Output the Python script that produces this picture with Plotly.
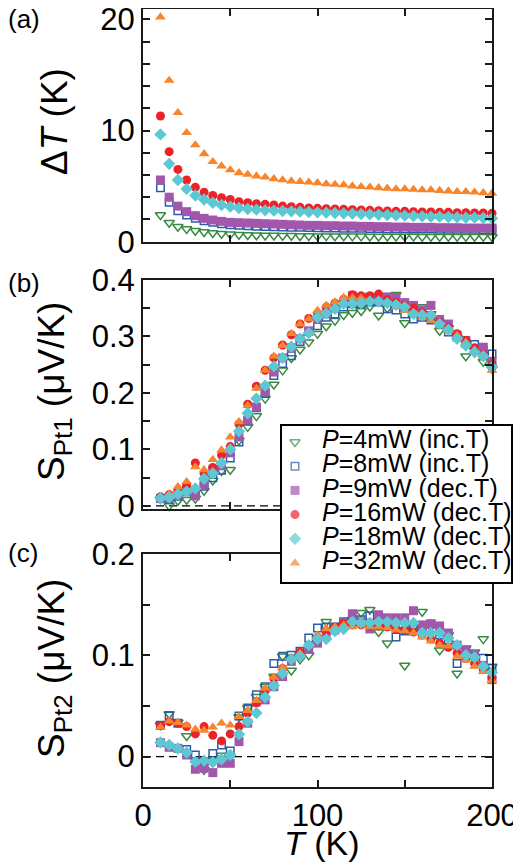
import plotly.graph_objects as go

# temperature points (K), same grid for every run
T = [10, 15, 20, 25, 30, 35, 40, 45, 50, 55, 60, 65, 70, 75, 80, 85, 90, 95, 100,
     105, 110, 115, 120, 125, 130, 135, 140, 145, 150, 155, 160, 165, 170, 175,
     180, 185, 190, 195, 200]

# (a) delta T (K)
DT_4MW = [2.4, 1.71, 1.35, 1.14, 0.99, 0.87, 0.78, 0.72, 0.66, 0.63, 0.6, 0.58, 0.56,
          0.55, 0.54, 0.53, 0.52, 0.51, 0.5, 0.5, 0.49, 0.49, 0.48, 0.48, 0.47, 0.47,
          0.47, 0.46, 0.46, 0.46, 0.45, 0.45, 0.45, 0.45, 0.44, 0.44, 0.44, 0.44, 0.43]
DT_8MW = [4.86, 3.54, 2.79, 2.4, 2.1, 1.89, 1.74, 1.62, 1.53, 1.47, 1.43, 1.40, 1.37,
          1.35, 1.33, 1.31, 1.29, 1.27, 1.26, 1.24, 1.23, 1.22, 1.21, 1.2, 1.19, 1.18,
          1.17, 1.16, 1.16, 1.15, 1.14, 1.14, 1.13, 1.12, 1.12, 1.11, 1.11, 1.1, 1.1]
DT_9MW = [5.55, 4.0, 3.2, 2.7, 2.34, 2.1, 1.95, 1.83, 1.74, 1.71, 1.68, 1.65, 1.62,
          1.59, 1.56, 1.53, 1.5, 1.47, 1.47, 1.44, 1.44, 1.41, 1.41, 1.38, 1.38, 1.35,
          1.35, 1.32, 1.32, 1.29, 1.29, 1.29, 1.26, 1.26, 1.26, 1.23, 1.23, 1.23, 1.23]
DT_16MW = [11.3, 8.1, 6.5, 5.55, 4.9, 4.45, 4.15, 3.95, 3.8, 3.6, 3.5, 3.42, 3.36,
           3.3, 3.2, 3.15, 3.09, 3.03, 3.0, 2.97, 2.94, 2.91, 2.88, 2.85, 2.82, 2.79,
           2.76, 2.73, 2.73, 2.7, 2.67, 2.67, 2.64, 2.64, 2.61, 2.61, 2.58, 2.58, 2.55]
DT_18MW = [9.65, 7.0, 5.55, 4.75, 4.15, 3.8, 3.5, 3.3, 3.15, 3.03, 2.94, 2.88, 2.82,
           2.79, 2.76, 2.73, 2.7, 2.67, 2.64, 2.61, 2.58, 2.55, 2.52, 2.49, 2.46, 2.43,
           2.4, 2.37, 2.34, 2.31, 2.28, 2.25, 2.25, 2.22, 2.19, 2.16, 2.16, 2.13, 2.1]
DT_32MW = [20.2, 14.5, 11.6, 9.8, 8.7, 7.9, 7.2, 6.8, 6.45, 6.2, 6.05, 5.9, 5.8,
           5.65, 5.55, 5.45, 5.4, 5.35, 5.3, 5.2, 5.15, 5.1, 5.0, 4.95, 4.9, 4.85,
           4.8, 4.75, 4.75, 4.7, 4.65, 4.65, 4.6, 4.55, 4.5, 4.5, 4.45, 4.4, 4.35]

# (b) S_Pt1 (uV/K)
S1_4MW = [0.012, 0.0, 0.009, 0.011, 0.013, 0.027, 0.045, 0.062, 0.064, 0.116, 0.14,
          0.159, 0.19, 0.215, 0.24, 0.262, 0.277, 0.29, 0.305, 0.318, 0.328, 0.338,
          0.342, 0.345, 0.353, 0.337, 0.35, 0.374, 0.324, 0.345, 0.352, 0.34, 0.31,
          0.315, 0.298, 0.265, 0.275, 0.255, 0.243]
S1_8MW = [0.013, 0.012, 0.017, 0.03, 0.025, 0.035, 0.05, 0.063, 0.085, 0.113, 0.15,
          0.174, 0.199, 0.231, 0.252, 0.266, 0.291, 0.309, 0.319, 0.334, 0.34, 0.352,
          0.358, 0.358, 0.361, 0.361, 0.349, 0.347, 0.34, 0.331, 0.334, 0.329, 0.322,
          0.308, 0.299, 0.288, 0.286, 0.275, 0.269]
S1_9MW = [0.013, 0.015, 0.02, 0.025, 0.018, 0.038, 0.064, 0.071, 0.094, 0.122, 0.152,
          0.175, 0.202, 0.237, 0.262, 0.28, 0.296, 0.31, 0.33, 0.34, 0.35, 0.36,
          0.372, 0.369, 0.37, 0.365, 0.37, 0.369, 0.36, 0.355, 0.347, 0.355, 0.33,
          0.322, 0.302, 0.293, 0.276, 0.281, 0.256]
S1_16MW = [0.016, 0.02, 0.028, 0.036, 0.076, 0.058, 0.068, 0.09, 0.105, 0.145, 0.18,
           0.212, 0.24, 0.262, 0.285, 0.303, 0.322, 0.332, 0.341, 0.352, 0.359, 0.366,
           0.374, 0.372, 0.372, 0.375, 0.365, 0.36, 0.355, 0.35, 0.342, 0.335, 0.325,
           0.316, 0.305, 0.293, 0.28, 0.268, 0.25]
S1_18MW = [0.0135, 0.015, 0.021, 0.025, 0.031, 0.048, 0.058, 0.076, 0.1, 0.132, 0.164,
           0.19, 0.213, 0.247, 0.262, 0.282, 0.296, 0.306, 0.334, 0.341, 0.349, 0.358,
           0.358, 0.359, 0.362, 0.362, 0.359, 0.356, 0.352, 0.34, 0.338, 0.337, 0.322,
           0.312, 0.296, 0.284, 0.272, 0.265, 0.246]
S1_32MW = [0.016, 0.021, 0.034, 0.043, 0.069, 0.064, 0.082, 0.099, 0.122, 0.149, 0.178,
           0.208, 0.24, 0.265, 0.284, 0.305, 0.322, 0.331, 0.346, 0.355, 0.361, 0.369,
           0.369, 0.368, 0.364, 0.364, 0.358, 0.352, 0.346, 0.341, 0.334, 0.328, 0.319,
           0.311, 0.302, 0.29, 0.276, 0.265, 0.24]

# (c) S_Pt2 (uV/K)
S2_4MW = [0.031, 0.042, 0.034, 0.0204, -0.0033, -0.013, -0.004, 0.001, 0.0, 0.039,
          0.048, 0.059, 0.069, 0.079, 0.099, 0.085, 0.096, 0.1, 0.117, 0.133, 0.127,
          0.13, 0.135, 0.142, 0.145, 0.123, 0.112, 0.13, 0.09, 0.128, 0.143, 0.128,
          0.105, 0.12, 0.082, 0.107, 0.103, 0.116, 0.089]
S2_8MW = [0.031, 0.040, 0.033, 0.007, 0.0016, -0.005, 0.003, 0.0115, 0.0056, 0.040,
          0.048, 0.061, 0.069, 0.092, 0.099, 0.1, 0.104, 0.117, 0.127, 0.128, 0.128,
          0.133, 0.135, 0.135, 0.139, 0.133, 0.129, 0.118, 0.124, 0.127, 0.126, 0.131,
          0.12, 0.115, 0.092, 0.102, 0.1, 0.097, 0.087]
S2_9MW = [0.0138, 0.0092, 0.0082, 0.0016, -0.0125, -0.0115, -0.0158, -0.0066, -0.0066,
          0.0148, 0.033, 0.054, 0.056, 0.069, 0.079, 0.094, 0.1, 0.106, 0.112, 0.122,
          0.125, 0.129, 0.141, 0.133, 0.126, 0.14, 0.137, 0.137, 0.137, 0.144, 0.13,
          0.131, 0.129, 0.122, 0.11, 0.105, 0.1, 0.09, 0.076]
S2_16MW = [0.0306, 0.0345, 0.033, 0.0296, 0.0224, 0.0296, 0.021, 0.0155, 0.0224, 0.0296,
           0.043, 0.053, 0.065, 0.077, 0.087, 0.097, 0.103, 0.11, 0.118, 0.124, 0.128,
           0.132, 0.13, 0.13, 0.129, 0.129, 0.128, 0.126, 0.125, 0.123, 0.12, 0.116,
           0.112, 0.108, 0.102, 0.097, 0.092, 0.086, 0.078]
S2_18MW = [0.014, 0.0115, 0.008, 0.004, -0.005, -0.004, -0.0056, -0.0026, 0.0016, 0.022,
           0.0345, 0.043, 0.0586, 0.07, 0.082, 0.096, 0.099, 0.11, 0.116, 0.116, 0.124,
           0.126, 0.133, 0.132, 0.132, 0.133, 0.133, 0.132, 0.132, 0.132, 0.122, 0.122,
           0.122, 0.117, 0.11, 0.1, 0.098, 0.089, 0.083]
S2_32MW = [0.029, 0.035, 0.0336, 0.031, 0.027, 0.026, 0.029, 0.033, 0.031, 0.0395,
           0.0454, 0.0553, 0.0674, 0.0783, 0.088, 0.097, 0.102, 0.11, 0.12, 0.126, 0.128,
           0.13, 0.128, 0.13, 0.128, 0.128, 0.127, 0.125, 0.124, 0.122, 0.118, 0.114,
           0.11, 0.109, 0.099, 0.095, 0.089, 0.084, 0.075]

LEGEND_LABELS = ['<i>P</i>=4mW (inc.T)', '<i>P</i>=8mW (inc.T)', '<i>P</i>=9mW (dec.T)',
                 '<i>P</i>=16mW (dec.T)', '<i>P</i>=18mW (dec.T)', '<i>P</i>=32mW (dec.T)']

FONT = 'Liberation Sans, Arial, sans-serif'
# the page body keeps its default 8px margin, so the figure is shifted by that much
OFF = 8
W, H = 521 - OFF, 866 - OFF


def xp(px):
    return (px - OFF) / W


def yp(py):
    return 1 - (py - OFF) / H


def ydom(top_px, bottom_px):
    return [yp(bottom_px), yp(top_px)]


# style per run, in legend order
styles = {
    '4mW':  dict(color='#3a8a42', symbol='triangle-down-open', size=9, lw=1.5),
    '8mW':  dict(color='#2b5cab', symbol='square-open', size=7.5, lw=1.5),
    '9mW':  dict(color='#a257ad', symbol='square', size=9, lw=0),
    '16mW': dict(color='#ec2229', symbol='circle', size=9, lw=0),
    '18mW': dict(color='#5ec8d2', symbol='diamond', size=9.5, lw=0),
    '32mW': dict(color='#f6852c', symbol='triangle-up', size=9.5, lw=0),
}
legend_keys = ['4mW', '8mW', '9mW', '16mW', '18mW', '32mW']
draw_order = ['4mW', '8mW', '9mW', '16mW', '32mW', '18mW']

panels = [
    ('x', 'y', dict(zip(legend_keys, [DT_4MW, DT_8MW, DT_9MW, DT_16MW, DT_18MW, DT_32MW]))),
    ('x2', 'y2', dict(zip(legend_keys, [S1_4MW, S1_8MW, S1_9MW, S1_16MW, S1_18MW, S1_32MW]))),
    ('x3', 'y3', dict(zip(legend_keys, [S2_4MW, S2_8MW, S2_9MW, S2_16MW, S2_18MW, S2_32MW]))),
]

fig = go.Figure()

for xa, ya, data in panels:
    for k in draw_order:
        s = styles[k]
        fig.add_trace(go.Scatter(
            x=T, y=data[k], mode='markers', xaxis=xa, yaxis=ya,
            marker=dict(symbol=s['symbol'], color=s['color'], size=s['size'],
                        line=dict(width=s['lw'], color=s['color'])),
            cliponaxis=False, showlegend=False, hoverinfo='skip'))

# legend box drawn as a small inset subplot so it sits on top of panels (b)/(c)
fig.add_trace(go.Scatter(
    x=[0] * len(LEGEND_LABELS), y=LEGEND_LABELS, mode='markers', xaxis='x4', yaxis='y4',
    marker=dict(symbol=[styles[k]['symbol'] for k in legend_keys],
                color=[styles[k]['color'] for k in legend_keys],
                size=[styles[k]['size'] for k in legend_keys],
                line=dict(width=[styles[k]['lw'] for k in legend_keys],
                          color=[styles[k]['color'] for k in legend_keys])),
    cliponaxis=False, showlegend=False, hoverinfo='skip'))
fig.add_trace(go.Scatter(
    x=[0.9] * len(LEGEND_LABELS), y=LEGEND_LABELS, mode='text', text=LEGEND_LABELS,
    textposition='middle right', textfont=dict(family=FONT, size=25, color='black'),
    xaxis='x4', yaxis='y4', cliponaxis=False, showlegend=False, hoverinfo='skip'))

axis_common = dict(showline=True, linewidth=2, linecolor='#1a1a1a', mirror='allticks',
                   ticks='inside', ticklen=7, tickwidth=1.5, tickcolor='#1a1a1a',
                   showgrid=False, zeroline=False, automargin=False,
                   ticklabeloverflow='allow',
                   tickfont=dict(family=FONT, size=31, color='black'))

xcommon = dict(axis_common, domain=[xp(143), xp(492)], range=[0, 200], tick0=0, dtick=100,
               minor=dict(dtick=50, ticks='inside', ticklen=7, tickwidth=1.5,
                          tickcolor='#1a1a1a', showgrid=False))

fig.update_layout(
    width=W, height=H,
    margin=dict(l=0, r=0, t=0, b=0, autoexpand=False),
    paper_bgcolor='white', plot_bgcolor='white',
    font=dict(family=FONT, color='black'),
    xaxis=dict(xcommon, anchor='y', showticklabels=False),
    yaxis=dict(axis_common, anchor='x', domain=ydom(9.3, 241.7), range=[0, 20.9],
               tick0=0, dtick=10,
               minor=dict(dtick=2, ticks='inside', ticklen=7, tickwidth=1.5,
                          tickcolor='#1a1a1a', showgrid=False)),
    xaxis2=dict(xcommon, anchor='y2', showticklabels=False),
    yaxis2=dict(axis_common, anchor='x2', domain=ydom(280, 509.3), range=[-0.006, 0.4],
                tick0=0, dtick=0.1,
                minor=dict(dtick=0.05, ticks='inside', ticklen=7, tickwidth=1.5,
                           tickcolor='#1a1a1a', showgrid=False)),
    xaxis3=dict(xcommon, anchor='y3', showticklabels=True),
    yaxis3=dict(axis_common, anchor='x3', domain=ydom(554, 787), range=[-0.03, 0.2],
                tick0=0, dtick=0.1,
                minor=dict(dtick=0.05, ticks='inside', ticklen=7, tickwidth=1.5,
                           tickcolor='#1a1a1a', showgrid=False)),
    xaxis4=dict(domain=[xp(282), xp(511)], anchor='y4', range=[-0.433, 7.2],
                showline=True, mirror=True, linewidth=1.5, linecolor='black',
                showgrid=False, zeroline=False, showticklabels=False, ticks='',
                automargin=False),
    yaxis4=dict(domain=ydom(426, 582), anchor='x4', type='category',
                range=[5.785, -0.661], showline=True, mirror=True, linewidth=1.5,
                linecolor='black', showgrid=False, zeroline=False,
                showticklabels=False, ticks='', automargin=False),
)

# dashed zero lines in (b) and (c)
for xa, ya in [('x2', 'y2'), ('x3', 'y3')]:
    fig.add_shape(type='line', xref=xa + ' domain', yref=ya, x0=0, x1=1, y0=0, y1=0,
                  line=dict(color='black', width=1.3, dash='8px,5px'), layer='below')

# axis titles and panel labels
ytitles = [('Δ<i>T</i> (K)', 122), ('S<sub>Pt1</sub> (μV/K)', 392),
           ('S<sub>Pt2</sub> (μV/K)', 669)]
for txt, ypx in ytitles:
    fig.add_annotation(text=txt, xref='paper', yref='paper', x=xp(54), y=yp(ypx),
                       xanchor='center', yanchor='middle', textangle=-90,
                       showarrow=False, font=dict(family=FONT, size=37, color='black'))

fig.add_annotation(text='<i>T</i> (K)', xref='paper', yref='paper', x=xp(322),
                   y=yp(843), xanchor='center', yanchor='middle', showarrow=False,
                   font=dict(family=FONT, size=34, color='black'))

for lab, ypx in [('(a)', 19), ('(b)', 283), ('(c)', 553)]:
    fig.add_annotation(text=lab, xref='paper', yref='paper', x=xp(6), y=yp(ypx),
                       xanchor='left', yanchor='middle', showarrow=False,
                       font=dict(family=FONT, size=26, color='black'))

fig.write_html('out.html')
